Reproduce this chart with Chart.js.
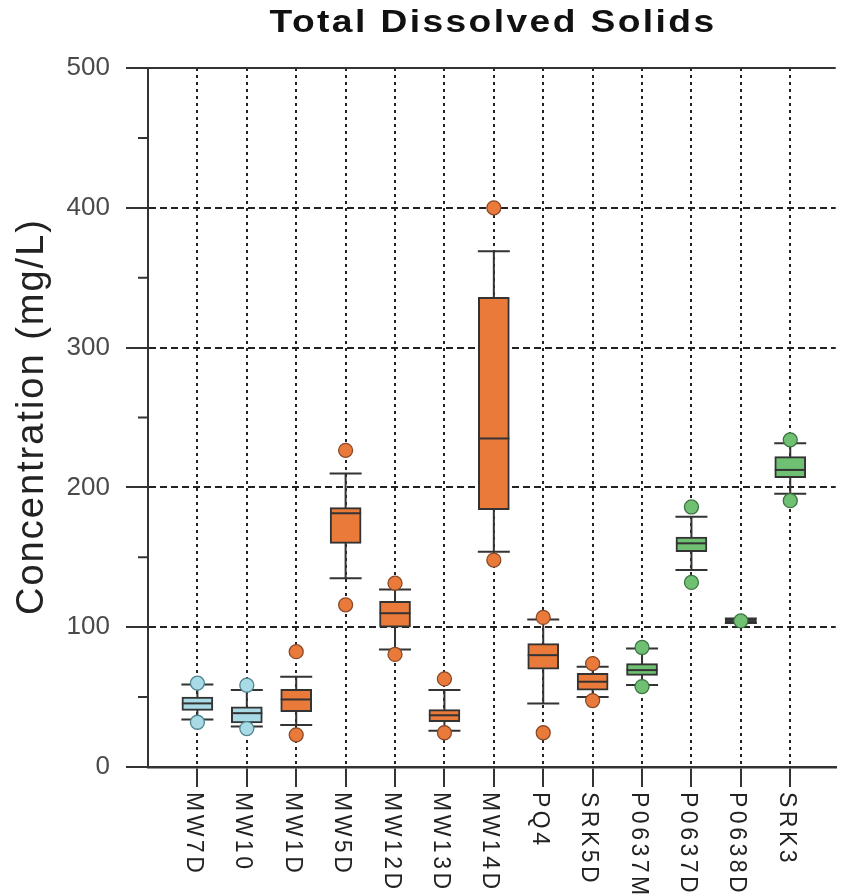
<!DOCTYPE html>
<html>
<head>
<meta charset="utf-8">
<script src="https://cdn.jsdelivr.net/npm/chart.js@4.4.0/dist/chart.umd.min.js"></script>
<style>
  html, body { margin: 0; padding: 0; background: #fff; }
</style>
</head>
<body>
<canvas id="tds_chart" width="844" height="896"></canvas>
<script>
const titleText = "Total Dissolved Solids";
const yAxisTitle = "Concentration (mg/L)";

const categories = ["MW7D", "MW10", "MW1D", "MW5D", "MW12D", "MW13D", "MW14D", "PQ4", "SRK5D", "P0637M", "P0637D", "P0638D", "SRK3"];
const groups = ["blue", "blue", "orange", "orange", "orange", "orange", "orange", "orange", "orange", "green", "green", "green", "green"];

// box plot stats, mg/L
const whiskerLow  = [34, 29, 30, 135, 84, 26, 154, 45.5, 50, 58.6, 141, 103, 195.5];
const q1          = [40.5, 31.5, 39.5, 160, 100, 32.5, 184, 70, 55, 65.5, 154, 103.3, 207];
const median      = [45.5, 38.5, 48.3, 181.5, 110, 37, 235, 80, 61, 69.3, 160, 104.3, 212.5];
const q3          = [50, 43, 55.5, 185.5, 118.5, 41, 336, 88.3, 67, 74, 164.5, 105.6, 222];
const whiskerHigh = [59, 55, 64.5, 210, 127, 55, 369, 105.5, 71.7, 84.7, 179, 106.2, 231.5];
const outlierLow  = [32, 27.5, 23, 116, 80.5, 24.5, 148, 24.5, 47.5, 57.5, 132, null, 190.5];
const outlierHigh = [60, 58.5, 82.5, 226.5, 131.5, 63, 400, 107, 74, 85.5, 186, 104.5, 234];

const yMin = 0;
const yMax = 500;

const fillColors = { blue: "#a8dbe5", orange: "#e97a3a", green: "#6fc072" };
const edgeColors = { blue: "#4f858f", orange: "#8a4a2a", green: "#3d7443" };
const ink = "#333";
const font = '"Liberation Sans", Arial, sans-serif';

const boxes = categories.map((c, i) => ({ x: i + 1, y: [q1[i], q3[i]] }));
const outlierPoints = [];
const outlierFill = [];
const outlierEdge = [];
categories.forEach((c, i) => {
    [outlierLow[i], outlierHigh[i]].forEach((v) => {
        if (v === null) return;
        outlierPoints.push({ x: i + 1, y: v });
        outlierFill.push(fillColors[groups[i]]);
        outlierEdge.push(edgeColors[groups[i]]);
    });
});

const tickValue = (c) => (c.tick ? c.tick.value : null);

const boxPlot = {
    id: "boxPlot",
    beforeDatasetsDraw(chart) {
        // whiskers and caps, under the boxes
        const { ctx, scales: { x, y } } = chart;
        ctx.save();
        ctx.strokeStyle = ink;
        ctx.lineWidth = 2;
        categories.forEach((c, i) => {
            const px = x.getPixelForValue(i + 1);
            const lo = y.getPixelForValue(whiskerLow[i]);
            const hi = y.getPixelForValue(whiskerHigh[i]);
            ctx.beginPath();
            ctx.moveTo(px, lo);
            ctx.lineTo(px, hi);
            ctx.moveTo(px - 16, lo);
            ctx.lineTo(px + 16, lo);
            ctx.moveTo(px - 16, hi);
            ctx.lineTo(px + 16, hi);
            ctx.stroke();
        });
        ctx.restore();
    },
    afterDatasetDraw(chart, args) {
        if (args.index !== 0) return;
        const { ctx, scales: { x, y } } = chart;
        ctx.save();
        ctx.strokeStyle = ink;
        ctx.lineWidth = 2;
        categories.forEach((c, i) => {
            const px = x.getPixelForValue(i + 1);
            const py = y.getPixelForValue(median[i]);
            ctx.beginPath();
            ctx.moveTo(px - 15.5, py);
            ctx.lineTo(px + 15.5, py);
            ctx.stroke();
        });
        ctx.restore();
    },
    afterDraw(chart) {
        const { ctx, chartArea, scales: { x, y } } = chart;
        ctx.save();
        // top frame line
        ctx.strokeStyle = ink;
        ctx.lineWidth = 2;
        ctx.beginPath();
        const top = y.getPixelForValue(yMax);
        ctx.moveTo(chartArea.left, top);
        ctx.lineTo(chartArea.right, top);
        // minor ticks
        y.ticks.forEach((t) => {
            if (t.value % 100 === 0) return;
            const py = y.getPixelForValue(t.value);
            ctx.moveTo(chartArea.left - 10, py);
            ctx.lineTo(chartArea.left, py);
        });
        ctx.stroke();

        // title, a bit wide like the original
        ctx.save();
        ctx.fillStyle = "#111";
        ctx.font = "bold 31px " + font;
        ctx.letterSpacing = "2px";
        ctx.textAlign = "left";
        ctx.textBaseline = "alphabetic";
        const sx = 1.2;
        let w = (ctx.measureText(titleText).width - 2) * sx;
        ctx.translate((chartArea.left + chartArea.right) / 2 - w / 2, 32);
        ctx.scale(sx, 1);
        ctx.fillText(titleText, 0, 0);
        ctx.restore();

        // y axis title
        ctx.save();
        ctx.fillStyle = "#222";
        ctx.font = "38px " + font;
        ctx.letterSpacing = "2px";
        w = ctx.measureText(yAxisTitle).width - 2;
        ctx.translate(43, (chartArea.top + chartArea.bottom) / 2);
        ctx.rotate(-Math.PI / 2);
        ctx.fillText(yAxisTitle, -w / 2, 0);
        ctx.restore();

        // category labels, reading downwards
        ctx.fillStyle = "#222";
        ctx.font = "23px " + font;
        ctx.letterSpacing = "3.5px";
        categories.forEach((c, i) => {
            const px = x.getPixelForValue(i + 1);
            ctx.save();
            ctx.translate(px - 10.5, chartArea.bottom + 25);
            ctx.rotate(Math.PI / 2);
            ctx.fillText(c, 0, 0);
            ctx.restore();
        });
        ctx.restore();
    },
};

const ctx = document.querySelector("#tds_chart");
new Chart(ctx, {
    type: "bar",
    data: {
        datasets: [
            {
                type: "bar",
                label: "IQR",
                data: boxes,
                backgroundColor: groups.map((g) => fillColors[g]),
                borderColor: ink,
                borderWidth: 2,
                borderSkipped: false,
                barThickness: 31,
                order: 1,
            },
            {
                type: "scatter",
                label: "Outliers",
                data: outlierPoints,
                backgroundColor: outlierFill,
                borderColor: outlierEdge,
                borderWidth: 1.3,
                pointRadius: 7,
                order: 0,
            },
        ],
    },
    options: {
        responsive: false,
        animation: false,
        devicePixelRatio: 1,
        layout: { padding: { top: 68, left: 0, right: 0, bottom: 0 } },
        plugins: {
            legend: { display: false },
            tooltip: { enabled: false },
            title: { display: false },
        },
        scales: {
            x: {
                type: "linear",
                min: 0,
                max: 13.92,
                offset: false,
                grid: {
                    offset: false,
                    color: "#222",
                    lineWidth: 2,
                    tickLength: 20,
                    tickColor: ink,
                    tickWidth: 2,
                },
                border: { color: ink, width: 2.5, dash: [3, 4] },
                ticks: { display: false },
                afterBuildTicks: (s) => {
                    s.ticks = categories.map((c, i) => ({ value: i + 1 }));
                },
                afterFit: (s) => {
                    s.height = 129;
                },
            },
            y: {
                min: yMin,
                max: yMax,
                ticks: {
                    stepSize: 50,
                    autoSkip: false,
                    callback: (v) => (v % 100 === 0 ? v : ""),
                    font: { family: font, size: 26 },
                    color: "#4a4a4a",
                    padding: 16,
                },
                grid: {
                    color: (c) => {
                        const v = tickValue(c);
                        return v !== null && v % 100 === 0 && v > yMin && v < yMax ? "#222" : "rgba(0,0,0,0)";
                    },
                    tickColor: (c) => {
                        const v = tickValue(c);
                        return v !== null && v % 100 === 0 ? ink : "rgba(0,0,0,0)";
                    },
                    lineWidth: 2,
                    tickLength: 22,
                    tickWidth: 2,
                },
                border: { color: ink, width: 2, dash: [7, 4] },
                afterFit: (s) => {
                    s.width = 148;
                },
            },
        },
    },
    plugins: [boxPlot],
});
</script>
</body>
</html>
